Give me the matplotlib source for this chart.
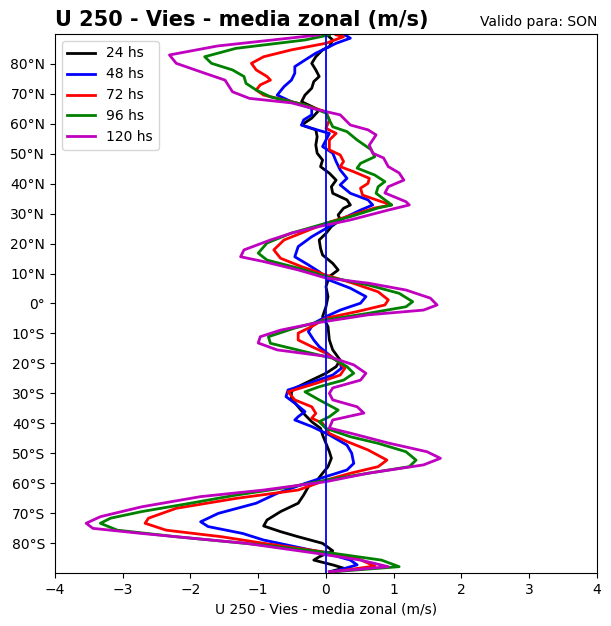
import matplotlib
matplotlib.use("Agg")
import matplotlib.pyplot as plt

labels = ["24 hs", "48 hs", "72 hs", "96 hs", "120 hs"]
colors = ["k", "b", "r", "g", "m"]

lat_24 = [89.6, 88.0, 85.8, 84.7, 82.4, 80.2, 78.0, 75.8, 74.1, 71.9, 69.6, 67.4, 64.6, 61.9, 59.6, 58.0,
          55.7, 52.9, 50.2, 47.9, 45.7, 43.5, 41.2, 39.0, 36.8, 34.6, 32.9, 31.8, 29.6, 27.9, 25.7, 23.4,
          21.2, 18.4, 16.2, 13.4, 11.2, 9.0, 5.6, 2.3, -1.1, -4.4, -7.7, -12.2, -15.5, -18.9, -21.1, -23.3,
          -26.1, -28.3, -29.5, -31.7, -34.5, -37.2, -39.5, -41.7, -43.9, -46.7, -49.5, -51.7, -54.5, -56.7,
          -59.0, -61.2, -64.0, -66.7, -69.5, -72.3, -74.3, -76.2, -77.9, -80.1, -82.6, -84.6, -85.7, -87.3,
          -88.4, -89.6]
u_24 = [0.02, 0.10, 0.05, -0.05, -0.15, -0.21, -0.15, -0.10, -0.18, -0.21, -0.31, -0.36, -0.10, -0.21, -0.36, -0.15,
        -0.13, -0.15, -0.13, -0.05, -0.08, 0.05, 0.15, 0.08, 0.10, 0.31, 0.36, 0.26, 0.18, 0.21, 0.08, 0.00,
        -0.10, -0.08, -0.05, 0.10, 0.18, 0.05, 0.00, 0.03, 0.00, -0.05, 0.03, 0.05, 0.10, 0.21, 0.15, 0.00,
        -0.26, -0.46, -0.51, -0.51, -0.41, -0.31, -0.21, -0.08, -0.05, 0.00, 0.05, 0.08, 0.03, -0.05,
        -0.13, -0.26, -0.33, -0.41, -0.67, -0.87, -0.92, -0.67, -0.41, -0.05, 0.10, -0.10, -0.18, 0.10,
        0.26, 0.05]

lat_48 = [89.7, 88.6, 86.9, 85.2, 83.6, 81.3, 79.1, 76.9, 74.6, 72.4, 69.6, 67.4, 65.2, 63.0, 61.3, 59.6,
          58.5, 56.8, 54.6, 52.4, 50.2, 47.4, 44.6, 41.8, 39.6, 36.8, 34.6, 32.9, 31.2, 28.5, 25.7, 22.3,
          19.0, 15.6, 12.9, 10.6, 7.8, 5.1, 2.3, 0.1, -2.2, -4.4, -6.6, -9.4, -12.2, -14.4, -17.2, -20.0,
          -21.6, -23.9, -26.7, -28.9, -31.1, -33.3, -36.1, -37.8, -38.9, -41.1, -43.9, -47.3, -50.0, -53.4,
          -55.6, -57.8, -60.1, -63.4, -66.7, -70.1, -72.9, -74.5, -76.8, -79.0, -81.2, -83.4, -85.7, -87.3,
          -89.6]
u_48 = [0.28, 0.36, 0.15, 0.00, -0.15, -0.31, -0.46, -0.46, -0.51, -0.62, -0.72, -0.51, -0.21, -0.21, -0.33, -0.36,
        -0.21, 0.05, 0.00, -0.05, 0.10, 0.15, 0.21, 0.31, 0.21, 0.36, 0.62, 0.69, 0.51, 0.26, 0.05, -0.21,
        -0.41, -0.46, -0.26, -0.10, 0.05, 0.36, 0.59, 0.51, 0.21, 0.00, -0.18, -0.26, -0.18, -0.10, 0.05, 0.21,
        0.23, 0.10, -0.26, -0.56, -0.59, -0.46, -0.31, -0.41, -0.46, -0.21, 0.05, 0.31, 0.38, 0.41,
        0.31, 0.00, -0.31, -0.72, -1.03, -1.59, -1.85, -1.74, -1.23, -0.92, -0.46, 0.00, 0.36, 0.46,
        0.10]

lat_72 = [89.7, 89.1, 86.9, 84.7, 82.4, 80.2, 78.0, 75.8, 74.6, 73.0, 71.3, 69.6, 68.0, 66.3, 64.0, 61.3,
          58.5, 56.8, 54.6, 51.3, 49.6, 47.4, 45.7, 44.0, 41.8, 40.1, 38.5, 36.2, 34.0, 32.9, 31.9, 29.0,
          26.8, 24.0, 21.2, 17.9, 15.1, 12.3, 9.5, 6.7, 3.9, 1.2, -0.5, -2.7, -4.9, -7.7, -9.9, -12.2,
          -14.4, -16.6, -19.4, -21.6, -23.9, -26.7, -29.5, -32.2, -34.5, -36.7, -38.3, -40.0, -43.4, -46.1,
          -48.9, -52.3, -54.5, -56.7, -59.0, -62.3, -65.1, -68.4, -71.7, -73.4, -75.7, -77.9, -80.1, -82.9,
          -85.1, -87.7, -89.6]
u_72 = [0.15, 0.26, 0.00, -0.51, -0.92, -1.10, -1.03, -0.87, -0.82, -0.97, -1.03, -0.92, -0.62, -0.31, 0.00, 0.05,
        0.00, 0.15, 0.05, 0.05, 0.21, 0.26, 0.21, 0.41, 0.64, 0.62, 0.51, 0.54, 0.82, 0.97, 0.72, 0.31,
        0.00, -0.31, -0.62, -0.77, -0.67, -0.36, 0.00, 0.41, 0.77, 0.92, 0.87, 0.46, 0.00, -0.21, -0.41, -0.41,
        -0.21, 0.00, 0.18, 0.28, 0.21, -0.15, -0.56, -0.46, -0.21, -0.15, -0.21, -0.05, 0.05, 0.31,
        0.62, 0.90, 0.77, 0.36, 0.00, -0.41, -1.33, -2.21, -2.62, -2.67, -2.36, -1.54, -0.92, -0.05,
        0.46, 0.72, 0.10]

lat_96 = [89.7, 88.0, 85.2, 82.4, 80.2, 78.0, 75.8, 73.5, 71.3, 69.0, 66.3, 63.6, 61.3, 59.0, 57.4, 54.6,
          51.3, 49.0, 46.8, 45.2, 42.9, 40.7, 39.0, 36.8, 34.6, 32.9, 31.9, 29.0, 26.8, 23.5, 20.2, 16.8,
          14.5, 11.8, 9.0, 6.2, 3.4, 0.6, -1.1, -3.3, -5.5, -8.2, -11.1, -13.3, -16.1, -18.3, -21.1, -23.3,
          -25.6, -27.8, -29.5, -32.2, -35.6, -37.8, -39.5, -41.7, -44.5, -46.7, -49.5, -52.3, -54.5, -56.7,
          -59.0, -61.2, -64.0, -66.7, -69.5, -71.7, -73.4, -75.7, -77.9, -80.7, -83.4, -85.7, -87.9, -89.6]
u_96 = [0.05, -0.31, -1.33, -1.79, -1.69, -1.38, -1.21, -1.18, -1.03, -0.82, -0.31, 0.00, 0.05, 0.10, 0.31, 0.46,
        0.67, 0.72, 0.51, 0.46, 0.72, 0.87, 0.77, 0.74, 0.87, 0.97, 0.77, 0.36, 0.00, -0.51, -0.87, -1.00,
        -0.87, -0.41, 0.00, 0.62, 1.08, 1.28, 1.18, 0.62, 0.00, -0.46, -0.85, -0.82, -0.31, 0.10, 0.31, 0.41,
        0.26, -0.10, -0.31, -0.10, 0.18, 0.05, -0.10, 0.00, 0.36, 0.77, 1.18, 1.33, 1.23, 0.62,
        0.00, -0.51, -1.33, -2.00, -2.72, -3.18, -3.33, -3.08, -2.21, -0.92, 0.10, 0.82, 1.08, 0.10]

lat_120 = [89.7, 86.0, 83.0, 80.2, 76.9, 74.6, 70.7, 68.5, 67.0, 64.6, 63.0, 59.6, 58.0, 56.3, 52.9, 50.2,
           48.6, 45.7, 43.6, 41.2, 39.0, 36.9, 34.0, 32.9, 31.2, 27.9, 25.7, 23.5, 21.2, 17.9, 15.6, 14.0,
           11.2, 8.5, 6.8, 4.5, 1.8, -0.5, -2.2, -3.8, -6.5, -8.9, -11.1, -13.2, -15.5, -17.8, -20.5, -23.3,
           -25.6, -28.2, -30.0, -32.2, -34.5, -36.6, -38.9, -41.6, -43.3, -46.6, -49.5, -51.7, -53.9, -56.7,
           -59.5, -62.3, -64.5, -67.9, -71.2, -73.4, -75.1, -76.8, -80.1, -83.4, -85.7, -87.9, -89.6]
u_120 = [-0.10, -1.60, -2.31, -2.21, -1.79, -1.49, -1.38, -1.13, -0.51, -0.10, 0.21, 0.36, 0.62, 0.74, 0.64, 0.69,
         0.85, 0.92, 1.08, 1.15, 0.92, 0.87, 1.18, 1.23, 0.92, 0.36, -0.10, -0.51, -0.82, -1.21, -1.26, -0.92,
         -0.41, 0.00, 0.62, 1.18, 1.54, 1.64, 1.44, 0.62, -0.15, -0.67, -0.97, -1.00, -0.72, 0.05, 0.41, 0.59,
         0.51, 0.10, 0.05, 0.10, 0.46, 0.56, 0.10, 0.05, 0.36, 0.92, 1.49, 1.69, 1.44, 0.62,
         0.00, -0.92, -1.85, -2.72, -3.33, -3.54, -3.44, -2.72, -1.18, -0.15, 0.51, 0.92, 0.05]

series = [(lat_24, u_24), (lat_48, u_48), (lat_72, u_72), (lat_96, u_96), (lat_120, u_120)]

ytick_vals = [80, 70, 60, 50, 40, 30, 20, 10, 0, -10, -20, -30, -40, -50, -60, -70, -80]
ytick_labels = ["80°N", "70°N", "60°N", "50°N", "40°N", "30°N", "20°N", "10°N", "0°",
                "10°S", "20°S", "30°S", "40°S", "50°S", "60°S", "70°S", "80°S"]

fig = plt.figure(figsize=(6.11, 6.26), dpi=100)
ax = fig.add_axes([0.09, 0.0847, 0.887, 0.861])

for (la, u), lab, c in zip(series, labels, colors):
    ax.plot(u, la, color=c, lw=2, label=lab)

ax.axvline(0, color="b", lw=1.3)
ax.set_xlim(-4, 4)
ax.set_ylim(-90, 90)
ax.set_yticks(ytick_vals)
ax.set_yticklabels(ytick_labels)
ax.set_xticks(range(-4, 5))
ax.set_xlabel("U 250 - Vies - media zonal (m/s)")
ax.set_title("U 250 - Vies - media zonal (m/s)", loc="left", fontsize=15, fontweight="bold")
ax.set_title("Valido para: SON", loc="right", fontsize=10)
ax.legend(loc="upper left")

fig.savefig("out.png", dpi=100)
